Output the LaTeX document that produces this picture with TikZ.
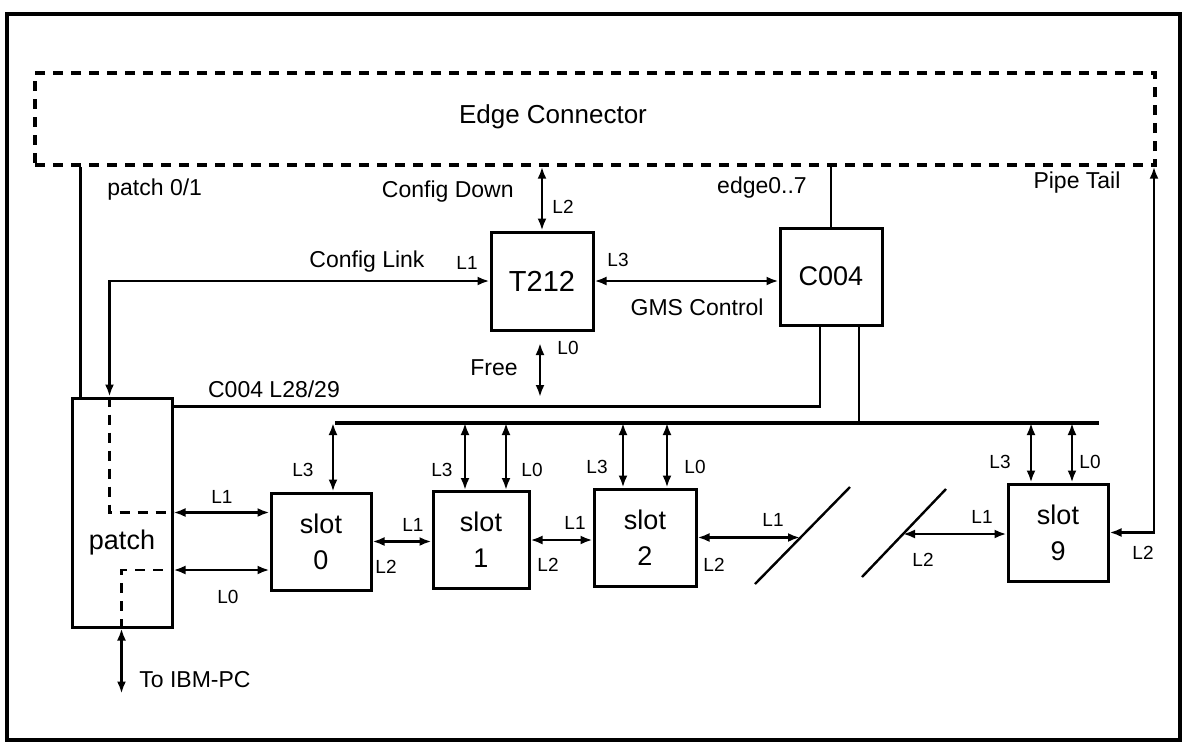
\documentclass[tikz,border=0pt]{standalone}
\usepackage{fontspec}
\setmainfont{Liberation Sans}
\usetikzlibrary{arrows.meta}

\begin{document}
\begin{tikzpicture}[x=0.5pt,y=-0.5pt,line width=1.4pt,
  box/.style={draw,line width=1.5pt,inner sep=0pt,minimum width=50pt,minimum height=48.5pt,
    font=\fontsize{13.5}{18}\selectfont,align=center},
  txt/.style={font=\fontsize{11.5}{13}\selectfont,inner sep=0pt},
  lk/.style={font=\fontsize{9.5}{11}\selectfont,inner sep=0pt},
  dbl/.style={{Latex[length=6pt,width=4.5pt]}-{Latex[length=6pt,width=4.5pt]}},
  dashline/.style={dash pattern=on 5pt off 4pt}]
  \useasboundingbox (0,0) rectangle (1185,746);

  % Frame
  \draw[line width=1.6pt] (7,14) rectangle (1180,740);

  % Edge connector
  \node[draw,dashline,line width=1.7pt,minimum width=560pt,minimum height=46pt,inner sep=0pt] (edge) at (595,119) {};
  \node[font=\fontsize{13}{15}\selectfont] (edgetxt) at (553,117) {Edge Connector};

  % Boxes
  \node[box,minimum width=51pt,minimum height=49pt,font=\fontsize{14.5}{16}\selectfont] (t212) at (542,281) {T212};
  \node[box,minimum width=51pt] (c004) at (831,276.5) {C004};
  \node[box,minimum height=114.5pt,label={[font=\fontsize{13.5}{16}\selectfont,yshift=-15pt]center:patch}] (patch) at (122,512.5) {};
  \node[box] (s0) at (321,541.5) {slot\\0};
  \node[box,minimum width=48pt] (s1) at (481,540) {slot\\1};
  \node[box,minimum width=51pt] (s2) at (645,537.5) {slot\\2};
  \node[box] (s9) at (1058,532.5) {slot\\9};

  % Links to the edge connector
  \draw ([xshift=5pt]patch.north west) -- ([xshift=5pt]patch.north west |- edge.south);
  \draw[dbl] (edge.south -| t212.north) -- (t212.north);
  \draw (c004.north) -- (c004.north |- edge.south);

  % T212 links
  \draw[dbl] (t212.west) -| ([xshift=19.5pt]patch.north west);
  \draw[dbl] (t212.east) -- (t212.east -| c004.west);
  \coordinate (free1) at (540,343);
  \coordinate (free2) at (540,397);
  \draw[dbl] (free1) -- (free2);

  % C004 lines and bus
  \coordinate (busL) at (335,423);
  \coordinate (busR) at (1099,423);
  \draw ([yshift=-5pt]patch.north east) -| ([xshift=-5.5pt]c004.south);
  \draw ([xshift=14pt]c004.south) -- ([xshift=14pt]c004.south |- busL);
  \draw[line width=1.6pt] (busL) -- (busR);

  % Inside patch
  \draw[dashline] ([xshift=19.5pt]patch.north west) |- (patch.east);
  \draw[dashline] ([xshift=25.5pt]patch.south west) |- ([yshift=-28.75pt]patch.east);

  % patch to slot 0 and PC
  \draw[dbl] (patch.east) -- (patch.east -| s0.west);
  \draw[dbl] ([yshift=-28.75pt]patch.east) -- ([yshift=-28.75pt]patch.east -| s0.west);
  \draw[dbl] ([xshift=25.5pt]patch.south west) -- ++(0,65);

  % Bus to slots
  \foreach \s/\dx in {s0/6pt,s1/-8pt,s1/12.5pt,s2/-11pt,s2/11pt,s9/-13.5pt,s9/7pt}
    \draw[dbl] ([xshift=\dx]\s.north |- busL) -- ([xshift=\dx]\s.north);

  % Slot chain
  \coordinate (cut1) at (800,538);
  \coordinate (cut2) at (903,534);
  \coordinate (pipe) at (1154,533);
  \draw[dbl] (s0.east) -- (s0.east -| s1.west);
  \draw[dbl] (s1.east) -- (s1.east -| s2.west);
  \draw[dbl] (s2.east) -- (s2.east -| cut1);
  \draw[dbl] (cut2) -- (cut2 -| s9.west);
  \draw[dbl] (s9.east) -- (s9.east -| pipe) -- (pipe |- edge.south);
  \draw[line width=1.2pt] (755,584) -- (850,487);
  \draw[line width=1.2pt] (862,577) -- (946,489);

  % Labels
  \node[txt,anchor=west] (tpatch) at (106,190) {patch 0/1};
  \node[txt,anchor=east] (tdown) at (515,192) {Config Down};
  \node[txt] (tlink) at (367,262) {Config Link};
  \node[txt,anchor=east] (tgms) at (765,307) {GMS Control};
  \node[txt] (tedge) at (762,188) {edge0..7};
  \node[txt] (tpipe) at (1077,183) {Pipe Tail};
  \node[txt] (tfree) at (494,368) {Free};
  \node[txt] (tc004) at (274,389) {C004 L28/29};
  \node[txt] (tibm) at (195,680) {To IBM-PC};

  % Link labels
  \foreach \n/\x/\y/\t in {a/563/207/L2,b/467/263/L1,c/618/260/L3,d/568/348/L0,
      e/222/497/L1,f/228/597/L0,g/303/470/L3,h/413/525/L1,i/386/567/L2,
      j/442/470/L3,k/532/470/L0,l/575/523/L1,m/548/565/L2,
      n/597/467/L3,o/695/467/L0,p/773/520/L1,q/714/565/L2,
      r/1000/462/L3,s/1090/462/L0,t/982/517/L1,u/923/560/L2,v/1143/553/L2}
    \node[lk] (l\n) at (\x,\y) {\t};
\end{tikzpicture}
\end{document}
